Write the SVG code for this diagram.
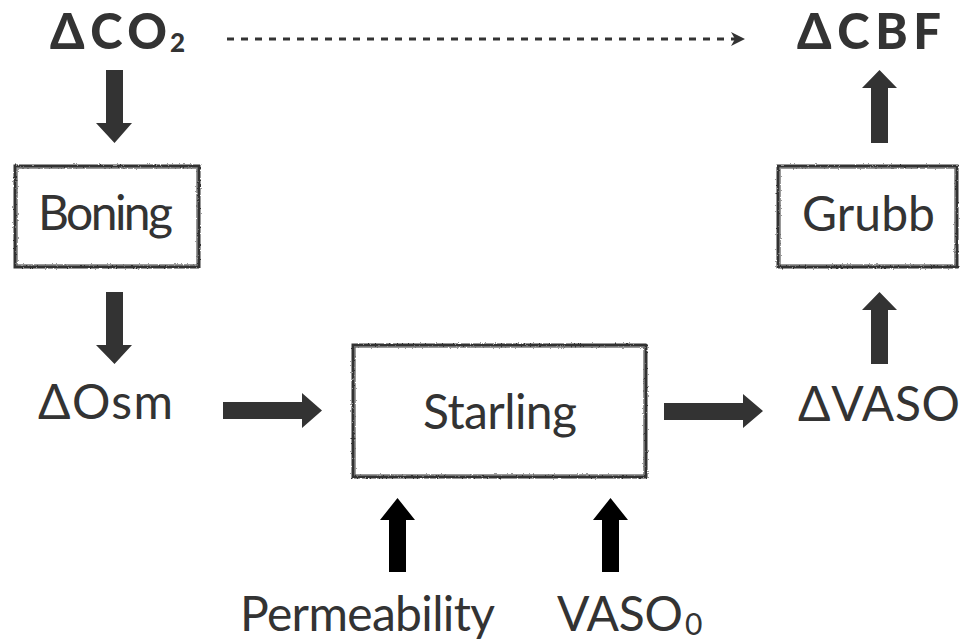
<svg xmlns="http://www.w3.org/2000/svg" width="963" height="643" viewBox="0 0 963 643">
  <style>
    .lbl { font-family: Lato, "Open Sans", "DejaVu Sans", sans-serif; font-size: 48px; fill: #333; }
    .bold { font-family: Lato, "Open Sans", "DejaVu Sans", sans-serif; font-size: 49px; font-weight: 900; fill: #333; }
    .sub { font-family: Lato, "Open Sans", "DejaVu Sans", sans-serif; fill: #333; }
    .box { fill: #fff; stroke: #333; stroke-width: 3; filter: url(#rough); }
    .box2 { fill: none; stroke: #555; stroke-width: 1.2; filter: url(#rough); }
    .arr { fill: #333; }
    .arrk { fill: #000; }
    .dash { stroke: #333; stroke-width: 3; stroke-dasharray: 7 7; fill: none; }
  </style>
  <defs>
    <!-- rough, hand-drawn edge for the box outlines -->
    <filter id="rough" x="-5%" y="-5%" width="110%" height="110%">
      <feTurbulence type="fractalNoise" baseFrequency="0.6" numOctaves="2" seed="3" result="n"/>
      <feDisplacementMap in="SourceGraphic" in2="n" scale="2.5" xChannelSelector="R" yChannelSelector="G"/>
    </filter>
    <marker id="head" viewBox="0 0 14 14" refX="13" refY="7" markerWidth="14" markerHeight="14" markerUnits="userSpaceOnUse" orient="auto">
      <path d="M0,0 L14,7 L0,14 L4,7 Z" fill="#333"/>
    </marker>
  </defs>

  <rect width="963" height="643" fill="#fff"/>

  <g id="connectors">
    <!-- dotted link CO2 -> CBF -->
    <path class="dash" d="M227,39 H744" marker-end="url(#head)"/>
    <!-- CO2 -> Boning -->
    <path class="arr" d="M106,70 H123 V123 H132 L114.5,143 L96,123 H106 Z"/>
    <!-- Boning -> Osm -->
    <path class="arr" d="M106,292 H123 V345 H132 L114.5,364 L96,345 H106 Z"/>
    <!-- Osm -> Starling -->
    <path class="arr" d="M223,402 H302 V393 L322,410.5 L302,428 V419 H223 Z"/>
    <!-- Starling -> VASO -->
    <path class="arr" d="M664,403 H743 V394 L763,411 L743,428 V420 H664 Z"/>
    <!-- VASO -> Grubb -->
    <path class="arr" d="M871,364 V310 H862 L879.5,292 L897,310 H888 V364 Z"/>
    <!-- Grubb -> CBF -->
    <path class="arr" d="M871,143 V88 H862 L879.5,70 L897,88 H888 V143 Z"/>
    <!-- Permeability -> Starling -->
    <path class="arrk" d="M389,572 V520 H380 L397.5,498 L415,520 H406 V572 Z"/>
    <!-- VASO0 -> Starling -->
    <path class="arrk" d="M602,572 V520 H593 L610.5,498 L628,520 H619 V572 Z"/>
  </g>

  <g id="co2">
    <text class="bold" x="50" y="49" textLength="117">ΔCO</text>
    <text class="sub" x="170" y="52" font-size="26" font-weight="900">2</text>
  </g>

  <g id="cbf">
    <text class="bold" x="797" y="49" textLength="144">ΔCBF</text>
  </g>

  <g id="boning">
    <rect class="box" x="15" y="166" width="184" height="101"/>
    <rect class="box2" x="17" y="168" width="180" height="97"/>
    <text class="lbl" x="38" y="230" textLength="135">Boning</text>
  </g>

  <g id="grubb">
    <rect class="box" x="778" y="166" width="179" height="101"/>
    <rect class="box2" x="780" y="168" width="175" height="97"/>
    <text class="lbl" x="802" y="231" textLength="133">Grubb</text>
  </g>

  <g id="osm">
    <text class="lbl" x="38" y="419" textLength="135">ΔOsm</text>
  </g>

  <g id="starling">
    <rect class="box" x="353" y="345" width="293" height="132"/>
    <rect class="box2" x="355" y="347" width="289" height="128"/>
    <text class="lbl" x="423" y="429" textLength="154">Starling</text>
  </g>

  <g id="vaso">
    <text class="lbl" x="798" y="421" textLength="162">ΔVASO</text>
  </g>

  <g id="permeability">
    <text class="lbl" x="240" y="631" textLength="255">Permeability</text>
  </g>

  <g id="vaso0">
    <text class="lbl" x="557" y="631" textLength="126">VASO</text>
    <text class="sub" x="685" y="635" font-size="30">0</text>
  </g>
</svg>
